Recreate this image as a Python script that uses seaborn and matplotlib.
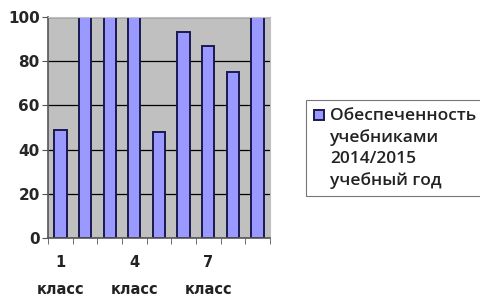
import numpy as np
import pandas as pd
import matplotlib
matplotlib.use("Agg")
import matplotlib.pyplot as plt
import seaborn as sb

# Values
classes = ["1", "2", "3", "4", "5", "6", "7", "8", "9"]
values = [49, 100, 100, 100, 48, 93, 87, 75, 100]
shown_ticks = {0: "1\nкласс", 3: "4\nкласс", 6: "7\nкласс"}
legend_label = "Обеспеченность\nучебниками\n2014/2015\nучебный год"

df = pd.DataFrame({"Class": classes, "Value": values})

sb.set_style("white")
plt.rcParams["font.family"] = ["DejaVu Sans"]

fig = plt.figure(figsize=(4.81, 2.97), dpi=100)
ax = fig.add_axes([0.1, 0.199, 0.461, 0.744])
ax.set_facecolor("#c0c0c0")

sb.barplot(data=df, x="Class", y="Value", color="#9999ff", width=0.5,
           edgecolor="#1a1a50", linewidth=1.4, saturation=1, ax=ax,
           label=legend_label)

ax.set_ylim(0, 100)
ax.set_xlim(-0.5, len(classes) - 0.5)
ax.set_yticks(range(0, 101, 20))
ax.yaxis.grid(True, color="black", linewidth=0.9)
ax.set_axisbelow(True)
ax.set_xticks(list(shown_ticks.keys()))
ax.set_xticklabels(list(shown_ticks.values()), linespacing=2.0)
ax.set_xticks(np.arange(-0.5, len(classes), 1), minor=True)
ax.tick_params(axis="x", which="major", length=0, pad=12)
ax.tick_params(axis="x", which="minor", length=4, color="#555555", bottom=True)
ax.tick_params(axis="y", length=4, left=True, color="#555555", pad=2)
for lbl in ax.get_yticklabels():
    lbl.set_fontsize(11)
    lbl.set_fontweight("bold")
for lbl in ax.get_xticklabels():
    lbl.set_fontsize(10.5)
    lbl.set_fontweight("bold")
    lbl.set_color("#222222")
ax.set_xlabel("")
ax.set_ylabel("")
for side in ["top", "right"]:
    ax.spines[side].set_color("#c0c0c0")
ax.spines["left"].set_color("#555555")
ax.spines["bottom"].set_color("#555555")
ax.spines["left"].set_linewidth(1.2)
ax.spines["bottom"].set_linewidth(1.2)

fs = 12.5
leg = ax.legend(loc="upper left", bbox_to_anchor=(1.165, 0.624), frameon=True,
                prop={"family": "Open Sans", "size": fs, "weight": "semibold"},
                handlelength=0.58, handleheight=5.3,
                handletextpad=0.35, fancybox=False, borderpad=0.45,
                borderaxespad=0, labelspacing=0.2)
leg.get_frame().set_edgecolor("#555555")
leg.get_frame().set_linewidth(0.8)
for t in leg.get_texts():
    t.set_linespacing(1.4)
    t.set_color("#222222")
# put the colour square next to the first line, like Excel does
box = leg.legend_handles[0]
full_h = box.get_height()
box.set_height(0.58 * fs)
box.set_y(box.get_y() + full_h - 0.58 * fs + 0.45 * fs)

fig.savefig("out.png", dpi=100)
